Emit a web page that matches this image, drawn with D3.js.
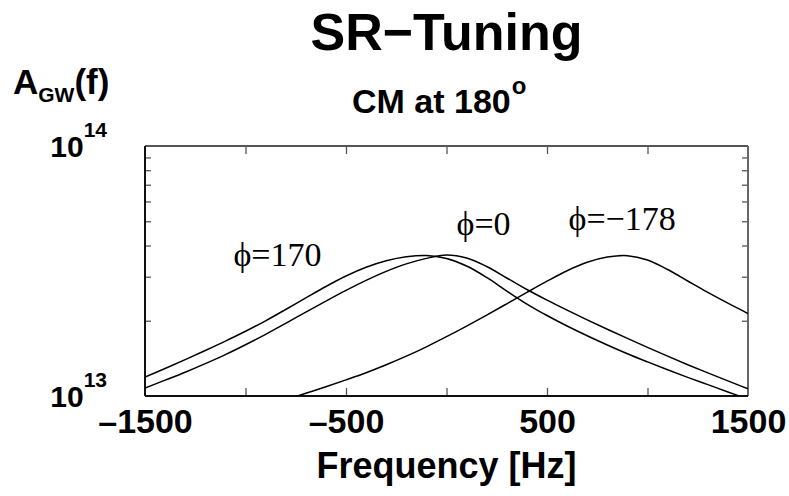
<!DOCTYPE html>
<html>
<head>
<meta charset="utf-8">
<script src="https://cdn.jsdelivr.net/npm/d3@7"></script>
<style>
  body { margin: 0; background: #fff; }
  text { font-family: "Liberation Sans", Arial, sans-serif; font-weight: bold; fill: #000; }
  .note { font-family: "Liberation Serif", "Times New Roman", serif; font-weight: normal; }
</style>
</head>
<body>
<svg id="chart" width="789" height="496"></svg>
<script>
"use strict";

// frequency grid [Hz]
const freqs = [-1500, -1400, -1300, -1200, -1100, -1000, -900, -800, -700, -600,
               -500, -400, -300, -200, -100, 0, 100, 200, 300, 400,
               500, 600, 700, 800, 900, 1000, 1100, 1200, 1300, 1400, 1500];

// A_GW(f) in units of 1e13
const unit = 1e13;
const phi170 = [1.191, 1.289, 1.398, 1.521, 1.658, 1.815, 1.999, 2.218, 2.468, 2.742,
                3.020, 3.272, 3.474, 3.604, 3.648, 3.548, 3.311, 2.979, 2.630, 2.333,
                2.099, 1.905, 1.741, 1.600, 1.476, 1.369, 1.273, 1.187, 1.110, 1.038, 0.972];
const phi0   = [1.076, 1.157, 1.245, 1.347, 1.464, 1.603, 1.765, 1.953, 2.166, 2.397,
                2.645, 2.900, 3.151, 3.376, 3.552, 3.664, 3.565, 3.296, 2.965, 2.667,
                2.419, 2.206, 2.017, 1.850, 1.700, 1.565, 1.443, 1.334, 1.237, 1.149, 1.069];
const phiM178 = [null, null, null, null, null, null, null, 0.965, 1.025, 1.089,
                 1.160, 1.239, 1.333, 1.443, 1.573, 1.727, 1.904, 2.107, 2.338, 2.597,
                 2.879, 3.171, 3.426, 3.594, 3.641, 3.500, 3.206, 2.884, 2.597, 2.351, 2.138];

const series = [phi170, phi0, phiM178];

// curve labels, anchored in data units
const noteText = ["\u03d5=170", "\u03d5=0", "\u03d5=\u2212178"];
const noteFreq = [-1060, 50, 607];
const noteVal  = [3.31, 4.41, 4.61];

const xTickMarks = [-1000, -500, 0, 500, 1000];
const xTickLabels = [-1500, -500, 500, 1500];
const yMinor = [2, 3, 4, 5, 6, 7, 8, 9];
const yMajor = [{v: 1, exp: "13"}, {v: 10, exp: "14"}];

const svg = d3.select("#chart");
const pL = 145, pR = 748, pT = 146, pB = 396;

const x = d3.scaleLinear().domain([-1500, 1500]).range([pL, pR]);
const y = d3.scaleLog().domain([1 * unit, 10 * unit]).range([pB, pT]);

svg.append("rect").attr("width", 789).attr("height", 496).attr("fill", "#fff");

// clip for curves
svg.append("defs").append("clipPath").attr("id", "plot")
   .append("rect").attr("x", pL).attr("y", pT)
   .attr("width", pR - pL).attr("height", pB - pT);

// ticks (inside)
function tickAxis(axis, tx, ty) {
    const g = svg.append("g").attr("transform", "translate(" + tx + "," + ty + ")").call(axis);
    g.select(".domain").remove();
    g.selectAll("line").attr("stroke", "#555").attr("stroke-width", 1.3);
    g.selectAll("text").remove();
}
tickAxis(d3.axisBottom(x).tickValues(xTickMarks).tickSize(-8), 0, pB);
tickAxis(d3.axisTop(x).tickValues(xTickMarks).tickSize(-8), 0, pT);
tickAxis(d3.axisLeft(y).tickValues(yMinor.map(d => d * unit)).tickSize(-6), pL, 0);
tickAxis(d3.axisRight(y).tickValues(yMinor.map(d => d * unit)).tickSize(-6), pR, 0);

// frame
svg.append("line").attr("x1", pL).attr("x2", pR).attr("y1", pT).attr("y2", pT)
   .attr("stroke", "#555").attr("stroke-width", 2);
svg.append("line").attr("x1", pR).attr("x2", pR).attr("y1", pT).attr("y2", pB)
   .attr("stroke", "#666").attr("stroke-width", 2);
svg.append("line").attr("x1", pL).attr("x2", pL).attr("y1", pT).attr("y2", pB)
   .attr("stroke", "#111").attr("stroke-width", 2);
svg.append("line").attr("x1", pL).attr("x2", pR).attr("y1", pB).attr("y2", pB)
   .attr("stroke", "#111").attr("stroke-width", 2);

// curves
const line = d3.line()
    .defined(d => d[1] != null)
    .x(d => x(d[0]))
    .y(d => y(d[1] * unit))
    .curve(d3.curveCatmullRom.alpha(0.5));

svg.append("g").attr("clip-path", "url(#plot)")
   .selectAll("path")
   .data(series)
   .enter()
   .append("path")
   .attr("d", s => line(freqs.map((f, i) => [f, s[i]])))
   .attr("fill", "none")
   .attr("stroke", "#000")
   .attr("stroke-width", 1.5);

// curve notes
svg.selectAll("text.note")
   .data(noteText)
   .enter()
   .append("text")
   .attr("class", "note")
   .attr("x", (d, i) => x(noteFreq[i]))
   .attr("y", (d, i) => y(noteVal[i] * unit))
   .attr("font-size", 34)
   .text(d => d);

// x tick labels
const xl = svg.append("g").attr("transform", "translate(0," + pB + ")")
    .call(d3.axisBottom(x).tickValues(xTickLabels).tickSize(0).tickPadding(0)
          .tickFormat(d => d < 0 ? "\u2013" + Math.abs(d) : String(d)));
xl.select(".domain").remove();
xl.selectAll("text")
  .attr("dy", null)
  .attr("y", 37)
  .attr("font-size", 34)
  .attr("font-family", "Liberation Sans, Arial, sans-serif")
  .attr("font-weight", "bold")
  .attr("fill", "#000");

// y labels 10^13, 10^14
const yl = svg.selectAll("text.ylab")
    .data(yMajor)
    .enter()
    .append("text")
    .attr("class", "ylab")
    .attr("x", 107)
    .attr("y", d => y(d.v * unit) + 11)
    .attr("text-anchor", "end")
    .attr("font-size", 30);
yl.append("tspan").text("10");
yl.append("tspan").attr("dy", -20).attr("font-size", 21).text(d => d.exp);

// y axis title A_GW(f)
const yt = svg.append("text").attr("x", 13).attr("y", 94).attr("font-size", 35);
yt.append("tspan").text("A");
yt.append("tspan").attr("dy", 8).attr("font-size", 21).text("GW");
yt.append("tspan").attr("dy", -8).text("(f)");

// titles
svg.append("text").attr("x", (pL + pR) / 2).attr("y", 50)
   .attr("text-anchor", "middle").attr("font-size", 52).text("SR\u2212Tuning");

const sub = svg.append("text").attr("x", 352).attr("y", 113).attr("font-size", 34);
sub.append("tspan").text("CM at 180");
sub.append("tspan").attr("dx", 1).attr("dy", -19).attr("font-size", 24).text("o");

// x axis title
svg.append("text").attr("x", (pL + pR) / 2).attr("y", 478)
   .attr("text-anchor", "middle").attr("font-size", 36).text("Frequency [Hz]");
</script>
</body>
</html>
